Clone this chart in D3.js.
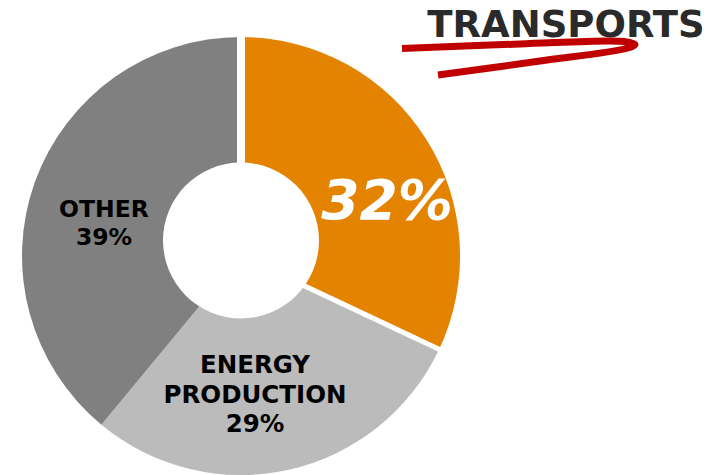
<!DOCTYPE html>
<html>
<head>
<meta charset="utf-8">
<script src="https://cdn.jsdelivr.net/npm/d3@7"></script>
<style>
  html, body { margin: 0; padding: 0; background: #fff; }
  svg { display: block; }
  text { font-family: "DejaVu Sans", Verdana, sans-serif; font-weight: bold; }
</style>
</head>
<body>
<svg id="chart" width="720" height="475"></svg>
<script>
// ---- data ----
const categories = ["TRANSPORTS", "ENERGY PRODUCTION", "OTHER"];
const values = [32, 29, 39];
const colors = ["#E38300", "#BBBBBB", "#808080"];
const labelLines = [["32%"], ["ENERGY", "PRODUCTION", "29%"], ["OTHER", "39%"]];
const title = "TRANSPORTS";

// ---- layout ----
const W = 720, H = 475;
const cx = 241, cy = 256, R = 219, holeR = 78, holeDy = -15.5;

const svg = d3.select("#chart");
const g = svg.append("g").attr("transform", `translate(${cx},${cy})`);

const pie = d3.pie().sort(null).value(d => d).startAngle(0).endAngle(2 * Math.PI);
const arcs = pie(values);
const arc = d3.arc().innerRadius(0).outerRadius(R);

g.selectAll("path.slice").data(arcs).enter().append("path")
  .attr("class", "slice")
  .attr("d", arc)
  .attr("fill", (d, i) => colors[i]);

// white separators on either side of the highlighted slice
const sepWidths = [8, 5];
[arcs[0].startAngle, arcs[0].endAngle].forEach((a, k) => {
  g.append("line")
    .attr("x1", 0).attr("y1", 0)
    .attr("x2", (R + 4) * Math.sin(a)).attr("y2", -(R + 4) * Math.cos(a))
    .attr("stroke", "#fff").attr("stroke-width", sepWidths[k]);
});

// hole
g.append("circle").attr("cx", 0).attr("cy", holeDy).attr("r", holeR).attr("fill", "#fff");

// labels
const labelPos = [
  { x: 146, y: -37, size: 55, fill: "#fff", italic: true, lh: 0 },
  { x: 14, y: 117, size: 24.5, fill: "#000", italic: false, lh: 29.5 },
  { x: -137, y: -39, size: 23.5, fill: "#000", italic: false, lh: 28 }
];
labelLines.forEach((lines, i) => {
  const p = labelPos[i];
  const t = g.append("text")
    .attr("text-anchor", "middle")
    .attr("font-size", p.size)
    .attr("fill", p.fill)
    .attr("font-style", p.italic ? "italic" : "normal");
  lines.forEach((ln, j) => {
    t.append("tspan").attr("x", p.x).attr("y", p.y + j * p.lh).text(ln);
  });
});

// title with red annotation stroke
svg.append("text")
  .attr("x", 566).attr("y", 37)
  .attr("text-anchor", "middle")
  .attr("font-size", 37)
  .attr("fill", "#2a2a2a")
  .text(title);

const scribble = [[402, 48.5], [520, 44], [624, 41.5], [635, 44.5], [626, 48.5], [540, 61], [438, 75]];
svg.append("path")
  .attr("d", d3.line().curve(d3.curveCatmullRom.alpha(0.5))(scribble))
  .attr("fill", "none")
  .attr("stroke", "#C00000")
  .attr("stroke-width", 7)
  .attr("stroke-linecap", "butt")
  .attr("stroke-linejoin", "round");
</script>
</body>
</html>
